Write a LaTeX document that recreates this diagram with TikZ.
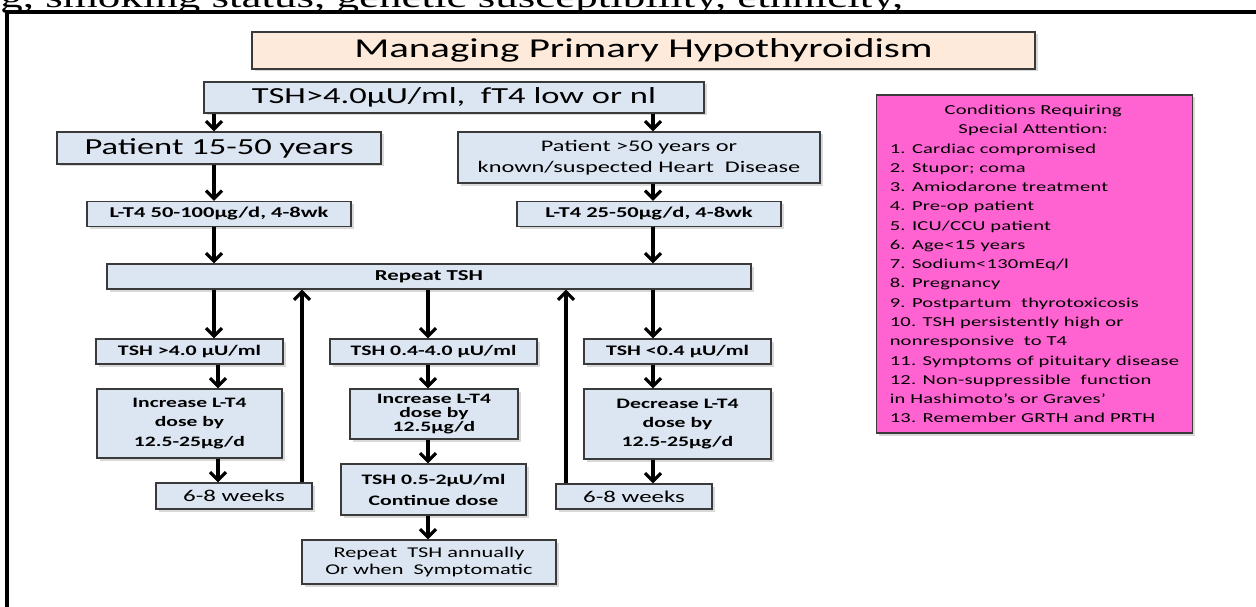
\documentclass[tikz,border=0pt]{standalone}
\usepackage{fontspec}
\setmainfont{Carlito}[FakeStretch=1.5]
\newfontfamily\spacedcal{Carlito}[FakeStretch=1.5,LetterSpace=1.5]
\newfontfamily\cutserif{Liberation Serif}[FakeStretch=1.5]
\usetikzlibrary{arrows.meta,shadows}

\definecolor{boxblue}{HTML}{DCE6F2}
\definecolor{titlepeach}{HTML}{FDEADA}
\definecolor{condpink}{HTML}{FF63D1}
\definecolor{edgegray}{HTML}{3A3A3A}

\tikzset{every picture/.style={line width=0.75pt}}
\tikzset{
  bluebox/.style={draw=edgegray, fill=boxblue, line width=1.3pt, inner sep=0pt, align=center,
    drop shadow={shadow xshift=2.5pt, shadow yshift=-2.5pt, opacity=0.3}},
  titlebox/.style={bluebox, fill=titlepeach},
  condbox/.style={bluebox, fill=condpink, align=left},
  arr/.style={line width=3.2pt, -{Straight Barb[length=8pt,width=16pt]}},
}

\begin{document}
\begin{tikzpicture}[x=1pt,y=1pt,yscale=-1,xscale=1]
    \useasboundingbox (0,0) rectangle (1256,607);
    %Frame lines
    \draw[line width=4pt] (1256,12) -- (7,12) -- (7,607);
    % Text Node
    \node[anchor=base west, inner sep=0pt, font=\cutserif\fontsize{30}{32}\selectfont] (cuttext) at (0,7.5) {g, smoking status, genetic susceptibility, ethnicity,};
    % Text Node
    \node[titlebox, minimum width=783pt, minimum height=37pt, font=\fontsize{27.3}{30}\selectfont] (title) at (643.5,50.5) {Managing Primary Hypothyroidism};
    % Text Node
    \node[bluebox, minimum width=500pt, minimum height=31pt, font=\fontsize{23}{26}\selectfont] (tsh) at (454,97.5) {TSH>4.0µU/ml,\ \ fT4 low or nl};
    \node[bluebox, minimum width=324pt, minimum height=32pt, font=\fontsize{23}{26}\selectfont] (patA) at (219,148) {Patient 15-50 years};
    \node[bluebox, minimum width=362pt, minimum height=51pt, font=\fontsize{16.2}{21}\selectfont] (patB) at (639,157.5) {Patient >50 years or\\ known/suspected Heart\ \ Disease};
    \node[bluebox, minimum width=264pt, minimum height=25pt, font=\fontsize{15}{18}\selectfont\bfseries] (ltA) at (219,214) {L-T4 50-100µg/d, 4-8wk};
    \node[bluebox, minimum width=264pt, minimum height=25pt, font=\fontsize{15}{18}\selectfont\bfseries] (ltB) at (649,214) {L-T4 25-50µg/d, 4-8wk};
    \node[bluebox, minimum width=644pt, minimum height=25pt, font=\fontsize{15.2}{18}\selectfont\bfseries] (rep) at (429,276.5) {Repeat TSH};
    % Text Node
    \node[bluebox, minimum width=187pt, minimum height=25pt, font=\fontsize{14.6}{18}\selectfont\bfseries] (hiA) at (189.5,351.5) {TSH >4.0 µU/ml};
    \node[bluebox, minimum width=185pt, minimum height=69pt, font=\fontsize{14.4}{19.5}\selectfont\bfseries] (incA) at (189.5,423.5) {Increase L-T4\\ dose by\\ 12.5-25µg/d};
    \node[bluebox, minimum width=156pt, minimum height=26pt, font=\fontsize{16.6}{20}\selectfont] (wkA) at (234,496) {6-8 weeks};
    % Text Node
    \node[bluebox, minimum width=207pt, minimum height=25pt, font=\fontsize{14.5}{18}\selectfont\bfseries] (okB) at (433.5,351.5) {TSH 0.4-4.0 µU/ml};
    \node[bluebox, minimum width=168pt, minimum height=50pt, font=\fontsize{14.4}{14}\selectfont\bfseries] (incB) at (434,414) {Increase L-T4\\ dose by\\ 12.5µg/d};
    \node[bluebox, minimum width=185pt, minimum height=51pt, font=\fontsize{14.5}{21}\selectfont\bfseries] (contB) at (433.5,489.5) {TSH 0.5-2µU/ml\\ Continue dose};
    \node[bluebox, minimum width=254pt, minimum height=44pt, font=\fontsize{14.9}{17}\selectfont] (annB) at (429,562) {Repeat\ \ TSH annually\\ Or when\ \ Symptomatic};
    % Text Node
    \node[bluebox, minimum width=187pt, minimum height=25pt, font=\fontsize{14.6}{18}\selectfont\bfseries] (loC) at (677.5,351.5) {TSH <0.4 µU/ml};
    \node[bluebox, minimum width=187pt, minimum height=70pt, font=\fontsize{14.5}{19}\selectfont\bfseries] (decC) at (677.5,424) {Decrease L-T4\\ dose by\\ 12.5-25µg/d};
    \node[bluebox, minimum width=156pt, minimum height=25pt, font=\fontsize{16.6}{20}\selectfont] (wkC) at (634,496.5) {6-8 weeks};
    % Text Node
    \node[condbox, minimum height=338pt, inner xsep=13pt, font=\spacedcal\fontsize{13.7}{19.27}\selectfont] (cond) at (1034.5,264) {\makebox[287pt]{Conditions Requiring}\\ \makebox[287pt]{Special Attention:}\\
      1. Cardiac compromised\\ 2. Stupor;\ coma\\ 3. Amiodarone treatment\\ 4. Pre-op patient\\ 5. ICU/CCU patient\\ 6. Age<15 years\\ 7. Sodium<130mEq/l\\ 8. Pregnancy\\ 9. Postpartum\ \ thyrotoxicosis\\ 10. TSH persistently high or\\ nonresponsive\ \ to T4\\ 11. Symptoms of pituitary disease\\ 12. Non-suppressible\ \ function\\ in Hashimoto’s or Graves’\\ 13. Remember GRTH and PRTH};
    %Arrow columns
    \coordinate (colL) at (214,0);
    \coordinate (colLb) at (218,0);
    \coordinate (colM) at (428,0);
    \coordinate (colR) at (653,0);
    \coordinate (upL) at (302,0);
    \coordinate (upR) at (566,0);
    %Straight Lines
    \draw[arr] (tsh.south -| colL) -- (patA.north -| colL);
    \draw[arr] (patA.south -| colL) -- (ltA.north -| colL);
    \draw[arr] (ltA.south -| colL) -- (rep.north -| colL);
    \draw[arr] (rep.south -| colL) -- (hiA.north -| colL);
    \draw[arr] (hiA.south -| colLb) -- (incA.north -| colLb);
    \draw[arr] (incA.south -| colLb) -- (wkA.north -| colLb);
    \draw[arr] (wkA.north -| upL) -- (rep.south -| upL);
    %Straight Lines
    \draw[arr] (rep.south -| colM) -- (okB.north -| colM);
    \draw[arr] (okB.south -| colM) -- (incB.north -| colM);
    \draw[arr] (incB.south -| colM) -- (contB.north -| colM);
    \draw[arr] (contB.south -| colM) -- (annB.north -| colM);
    %Straight Lines
    \draw[arr] (tsh.south -| colR) -- (patB.north -| colR);
    \draw[arr] (patB.south -| colR) -- (ltB.north -| colR);
    \draw[arr] (ltB.south -| colR) -- (rep.north -| colR);
    \draw[arr] (rep.south -| colR) -- (loC.north -| colR);
    \draw[arr] (loC.south -| colR) -- (decC.north -| colR);
    \draw[arr] (decC.south -| colR) -- (wkC.north -| colR);
    \draw[arr] (wkC.north -| upR) -- (rep.south -| upR);
\end{tikzpicture}
\end{document}
